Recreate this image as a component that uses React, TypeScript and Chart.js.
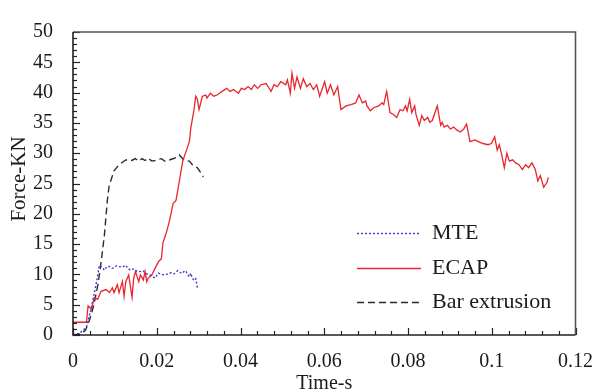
import React, { useEffect, useRef } from "react";
import { Chart, registerables } from "chart.js";

Chart.register(...registerables);

// ---- data ----
const ecapTime = [
  0, 0.0032, 0.0036, 0.0044, 0.0051, 0.0059, 0.0067, 0.0079, 0.0087, 0.0094, 0.0098,
  0.0106, 0.011, 0.0118, 0.0122, 0.0126, 0.0133, 0.0141, 0.0145, 0.0149, 0.0157,
  0.0161, 0.0168, 0.0172, 0.0176, 0.018, 0.0188, 0.0196, 0.0204, 0.0211, 0.0215,
  0.0223, 0.0231, 0.0239, 0.0246, 0.0254, 0.0262, 0.027, 0.0278, 0.0281, 0.0289,
  0.0293, 0.0297, 0.0301, 0.0309, 0.0317, 0.032, 0.0328, 0.0336, 0.0344, 0.0356,
  0.0367, 0.0375, 0.0383, 0.0395, 0.0402, 0.041, 0.0418, 0.0426, 0.0433, 0.0441,
  0.0449, 0.0461, 0.0473, 0.048, 0.0488, 0.0496, 0.0508, 0.0512, 0.0519, 0.0523,
  0.0529, 0.0535, 0.0543, 0.055, 0.0558, 0.0566, 0.0574, 0.0582, 0.0589, 0.0601,
  0.0607, 0.0615, 0.0623, 0.0632, 0.064, 0.0652, 0.0664, 0.0675, 0.0683, 0.0691,
  0.0699, 0.0702, 0.071, 0.0718, 0.073, 0.0738, 0.0742, 0.0749, 0.0757, 0.0765,
  0.0773, 0.0781, 0.0788, 0.0794, 0.0798, 0.0804, 0.0809, 0.0816, 0.0819, 0.0827,
  0.0833, 0.0839, 0.0847, 0.0852, 0.0858, 0.087, 0.0878, 0.0882, 0.0886, 0.0894,
  0.0901, 0.0909, 0.0917, 0.0925, 0.0933, 0.094, 0.0948, 0.096, 0.0968, 0.0979,
  0.0991, 0.0999, 0.1007, 0.1013, 0.1018, 0.1024, 0.103, 0.1036, 0.1042, 0.105,
  0.1057, 0.1065, 0.1073, 0.1081, 0.1088, 0.1096, 0.1104, 0.111, 0.1116, 0.1124,
  0.1132, 0.1135,
];
const ecapForce = [
  2.1, 2.1, 4.8, 4.3, 6.2, 5.9, 7.2, 7.5, 7.0, 7.8, 7.0,
  8.3, 7.0, 8.8, 6.4, 8.8, 9.9, 6.2, 9.4, 10.5, 8.8,
  9.9, 9.1, 10.5, 8.8, 9.4, 9.9, 11.0, 12.1, 12.6, 15.3,
  16.9, 19.0, 21.7, 22.2, 25.4, 28.7, 30.3, 31.9, 34.0, 37.2,
  39.4, 38.9, 37.2, 39.4, 39.6, 39.1, 39.9, 39.4, 39.6, 40.2,
  40.7, 40.2, 40.5, 39.9, 40.7, 40.5, 41.0, 40.5, 41.3, 40.7,
  41.3, 41.5, 40.2, 41.3, 41.0, 41.8, 41.3, 42.1, 39.9, 43.2,
  40.7, 42.6, 40.7, 42.3, 41.0, 41.5, 40.5, 41.3, 39.4, 41.8,
  39.9, 41.3, 39.6, 41.0, 37.2, 37.8, 38.0, 38.3, 39.6, 38.3,
  38.6, 37.8, 37.0, 37.5, 37.8, 38.3, 38.0, 40.2, 36.7, 36.4,
  35.9, 37.2, 37.0, 37.8, 37.0, 38.9, 36.7, 37.8, 36.4, 34.6,
  36.2, 35.4, 35.9, 35.1, 35.4, 37.8, 34.6, 35.1, 34.3, 34.6,
  34.0, 34.3, 33.8, 33.5, 34.0, 34.8, 31.9, 32.2, 31.9, 31.6,
  31.4, 31.6, 32.7, 30.5, 31.4, 29.7, 27.6, 30.0, 28.7, 28.9,
  28.4, 28.1, 27.3, 28.1, 27.6, 28.4, 27.3, 25.4, 26.3, 24.4,
  25.2, 26.0,
];

const barTime = [
  0, 0.002, 0.003, 0.004, 0.005, 0.006, 0.0068, 0.0075, 0.0082, 0.0086, 0.009,
  0.0098, 0.011, 0.0126, 0.014, 0.0149, 0.0157, 0.0165, 0.0172, 0.018, 0.0188,
  0.0196, 0.0204, 0.0211, 0.0219, 0.0227, 0.0235, 0.0243, 0.0254, 0.0266, 0.0278,
  0.0285, 0.0297, 0.0305, 0.0311,
];
const barForce = [
  0, 0.2, 0.8, 2.6, 5.0, 8.5, 12.5, 16.5, 22.2, 24.5, 25.4,
  27.1, 28.1, 28.9, 28.8, 29.1, 28.7, 29.1, 28.8, 29.2, 28.7,
  28.8, 29.0, 29.1, 28.7, 28.8, 29.0, 29.2, 29.7, 28.8, 28.7,
  28.1, 27.6, 26.8, 26.1,
];

const mteTime = [
  0, 0.0016, 0.0032, 0.0044, 0.0055, 0.0063, 0.0069, 0.0075, 0.0081, 0.0087, 0.0093,
  0.0098, 0.0104, 0.011, 0.0118, 0.0126, 0.0131, 0.0137, 0.0143, 0.0149, 0.0155,
  0.0161, 0.0167, 0.0172, 0.0178, 0.0184, 0.019, 0.0196, 0.0204, 0.0212, 0.0219,
  0.0227, 0.0235, 0.0242, 0.025, 0.0256, 0.0262, 0.0266, 0.027, 0.0274, 0.0278,
  0.0281, 0.0285, 0.0289, 0.0293, 0.0297,
];
const mteForce = [
  0, 0.3, 1.3, 4.6, 8.3, 11.5, 11.2, 10.7, 11.3, 11.3, 11.0,
  11.1, 11.4, 11.3, 11.2, 11.5, 11.0, 10.7, 10.9, 10.7, 10.4,
  10.5, 10.6, 10.3, 10.0, 9.9, 9.6, 9.4, 10.2, 10.0, 9.9,
  10.1, 10.3, 10.1, 10.6, 10.3, 10.2, 10.6, 10.5, 9.9, 9.6,
  10.2, 9.4, 9.0, 9.3, 7.8,
];

const xTicks = [0, 0.02, 0.04, 0.06, 0.08, 0.1, 0.12];
const yTicks = [0, 5, 10, 15, 20, 25, 30, 35, 40, 45, 50];
const seriesNames = ["MTE", "ECAP", "Bar extrusion"];
const xTitle = "Time-s";
const yTitle = "Force-KN";

const FONT = "'Liberation Serif', 'Times New Roman', serif";
const TEXT = "#1a1a1a";

const zip = (xs: number[], ys: number[]) => xs.map((x, i) => ({ x, y: ys[i] }));

const framePlugin = {
  id: "frame",
  afterDatasetsDraw(chart: any) {
    const { ctx, chartArea: a, scales } = chart;
    const xs = scales.x;
    const ys = scales.y;
    ctx.save();
    // minor/major tick marks pointing inward
    ctx.strokeStyle = "#222";
    ctx.lineWidth = 1.2;
    const yMax = yTicks[yTicks.length - 1];
    for (let v = 0; v <= yMax; v += 1) {
      const len = v % 5 === 0 ? 7 : 4;
      const py = Math.round(ys.getPixelForValue(v)) + 0.5;
      ctx.beginPath();
      ctx.moveTo(a.left, py);
      ctx.lineTo(a.left + len, py);
      ctx.stroke();
    }
    const xMax = xTicks[xTicks.length - 1];
    const minor = 0.004;
    const n = Math.round(xMax / minor);
    for (let i = 0; i <= n; i++) {
      const len = i % 5 === 0 ? 7 : 4;
      const px = Math.round(xs.getPixelForValue(i * minor)) + 0.5;
      ctx.beginPath();
      ctx.moveTo(px, a.bottom);
      ctx.lineTo(px, a.bottom - len);
      ctx.stroke();
    }
    // top & right border (grey)
    ctx.strokeStyle = "#555";
    ctx.lineWidth = 1.6;
    ctx.beginPath();
    ctx.moveTo(a.left, a.top);
    ctx.lineTo(a.right, a.top);
    ctx.lineTo(a.right, a.bottom);
    ctx.stroke();
    // left & bottom axes
    ctx.strokeStyle = "#222";
    ctx.lineWidth = 1.6;
    ctx.beginPath();
    ctx.moveTo(a.left, a.top);
    ctx.lineTo(a.left, a.bottom);
    ctx.lineTo(a.right, a.bottom);
    ctx.stroke();

    // legend
    const legendX1 = 357;
    const legendX2 = 421;
    const legendText = 432;
    const legendY = [233, 268, 302];
    ctx.font = `22px ${FONT}`;
    ctx.textBaseline = "middle";
    ctx.textAlign = "left";
    chart.data.datasets.forEach((ds: any, i: number) => {
      ctx.save();
      ctx.strokeStyle = ds.borderColor;
      ctx.lineWidth = ds.borderWidth;
      ctx.setLineDash(ds.borderDash || []);
      ctx.beginPath();
      ctx.moveTo(legendX1, legendY[i] + 0.5);
      ctx.lineTo(legendX2, legendY[i] + 0.5);
      ctx.stroke();
      ctx.restore();
      ctx.fillStyle = TEXT;
      ctx.fillText(ds.label, legendText, legendY[i]);
    });

    // axis titles
    ctx.fillStyle = TEXT;
    ctx.font = `20px ${FONT}`;
    ctx.textAlign = "center";
    ctx.textBaseline = "alphabetic";
    ctx.fillText(xTitle, (a.left + a.right) / 2, 389);

    ctx.save();
    ctx.translate(25, 179);
    ctx.rotate(-Math.PI / 2);
    ctx.font = `21px ${FONT}`;
    ctx.textAlign = "center";
    ctx.textBaseline = "alphabetic";
    ctx.fillText(yTitle, 0, 0);
    ctx.restore();

    ctx.restore();
  },
};

export default function App() {
  const canvasRef = useRef<HTMLCanvasElement | null>(null);

  useEffect(() => {
    const canvas = canvasRef.current;
    if (!canvas) return;
    const chart = new Chart(canvas, {
      type: "line",
      data: {
        datasets: [
          {
            label: seriesNames[0],
            data: zip(mteTime, mteForce),
            borderColor: "#3b3bd6",
            borderWidth: 1.4,
            borderDash: [2, 2],
            pointRadius: 0,
            tension: 0,
            fill: false,
          },
          {
            label: seriesNames[1],
            data: zip(ecapTime, ecapForce),
            borderColor: "#e8262e",
            borderWidth: 1.3,
            pointRadius: 0,
            tension: 0,
            fill: false,
          },
          {
            label: seriesNames[2],
            data: zip(barTime, barForce),
            borderColor: "#2a2a2a",
            borderWidth: 1.4,
            borderDash: [7, 4],
            pointRadius: 0,
            tension: 0,
            fill: false,
          },
        ],
      },
      options: {
        animation: false,
        responsive: false,
        devicePixelRatio: 1,
        parsing: false as any,
        normalized: true,
        layout: { padding: { top: 24, right: 22, left: 0, bottom: 0 } },
        plugins: {
          legend: { display: false },
          tooltip: { enabled: false },
          title: { display: false },
        },
        scales: {
          x: {
            type: "linear",
            min: xTicks[0],
            max: xTicks[xTicks.length - 1],
            afterBuildTicks: (s: any) => {
              s.ticks = xTicks.map((v) => ({ value: v }));
            },
            afterFit: (s: any) => {
              s.height = 55;
            },
            grid: { display: false, drawTicks: false },
            border: { display: false },
            ticks: {
              padding: 15,
              color: TEXT,
              font: { family: FONT, size: 20 },
              maxRotation: 0,
              autoSkip: false,
              callback: (v: any) => String(Number(Number(v).toFixed(3))),
            },
          },
          y: {
            type: "linear",
            min: yTicks[0],
            max: yTicks[yTicks.length - 1],
            afterBuildTicks: (s: any) => {
              s.ticks = yTicks.map((v) => ({ value: v }));
            },
            afterFit: (s: any) => {
              s.width = 73;
            },
            grid: { display: false, drawTicks: false },
            border: { display: false },
            ticks: {
              padding: 20,
              color: TEXT,
              font: { family: FONT, size: 20 },
              autoSkip: false,
              callback: (v: any) => String(v),
            },
          },
        },
      },
      plugins: [framePlugin],
    });
    return () => chart.destroy();
  }, []);

  return (
    <div style={{ position: "fixed", left: 0, top: 0, width: 608, height: 390, background: "#fff" }}>
      <canvas ref={canvasRef} width={608} height={390} style={{ display: "block" }} />
    </div>
  );
}
